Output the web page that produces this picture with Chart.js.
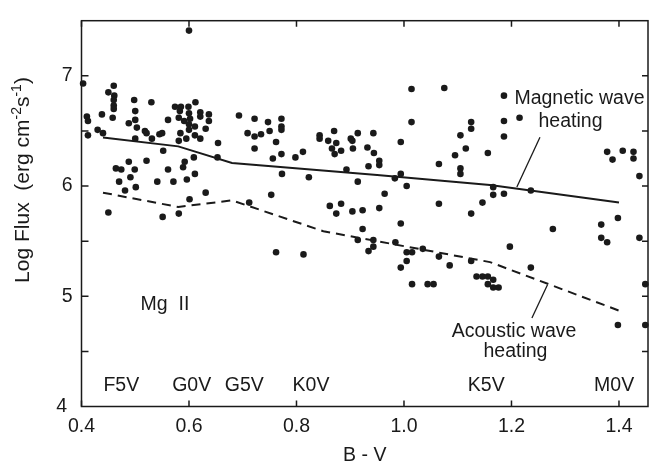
<!DOCTYPE html>
<html>
<head>
<meta charset="utf-8">
<script src="https://cdn.jsdelivr.net/npm/chart.js@4.4.1/dist/chart.umd.min.js"></script>
<style>
  body { margin: 0; background: #fff; }
  canvas { display: block; }
</style>
</head>
<body>
<canvas id="chart" width="656" height="468"></canvas>
<script>
// star measurements, B-V colour and Mg II log flux
const starBV = [
  0.403, 0.46, 0.45, 0.461, 0.46, 0.46, 0.46, 0.498, 0.53, 0.50,
  0.458, 0.41, 0.412, 0.438, 0.488, 0.50, 0.503, 0.518, 0.521, 0.545,
  0.55, 0.531, 0.50, 0.561, 0.43, 0.44, 0.412, 0.60, 0.574, 0.585,
  0.599, 0.612, 0.583, 0.60, 0.621, 0.621, 0.637, 0.581, 0.591, 0.602,
  0.60, 0.611, 0.637, 0.631, 0.584, 0.595, 0.611, 0.621, 0.581, 0.60,
  0.654, 0.653, 0.552, 0.488, 0.521, 0.464, 0.474, 0.499, 0.561, 0.592,
  0.609, 0.589, 0.491, 0.47, 0.501, 0.541, 0.571, 0.596, 0.611, 0.481,
  0.631, 0.601, 0.45, 0.551, 0.581,
  0.693, 0.722, 0.709, 0.722, 0.734, 0.722, 0.747, 0.75, 0.772, 0.772,
  0.772, 0.762, 0.772, 0.756, 0.798, 0.812, 0.773, 0.823, 0.753, 0.712,
  0.843, 0.843, 0.87, 0.859, 0.874, 0.866, 0.871, 0.883, 0.901, 0.904,
  0.914, 0.905, 0.932, 0.943, 0.893, 0.934, 0.914, 0.862, 0.883, 0.874,
  0.904, 0.923, 0.923, 0.914, 0.943, 0.943, 0.934, 0.762, 0.813,
  0.944, 0.954, 0.954, 1.014, 1.075, 1.186, 1.215, 1.014, 1.125, 1.125,
  1.186, 1.186, 0.994, 1.105, 1.115, 1.095, 1.156, 1.065, 1.105, 1.105,
  0.983, 0.994, 1.005, 0.964, 1.166, 1.166, 1.186, 1.146, 1.065, 0.954,
  1.125, 0.994, 0.984, 1.005, 1.015, 1.035, 1.005, 0.994, 1.065, 1.085,
  1.125, 1.197, 1.015, 1.044, 1.055, 1.135, 1.146, 1.156, 1.166, 1.156,
  1.166, 1.176, 1.236, 1.277, 1.236, 1.378, 1.388, 1.407, 1.427, 1.427,
  1.438, 1.367, 1.398, 1.367, 1.378, 1.438, 1.449, 1.398, 1.449
];
const starFlux = [
  6.93, 6.91, 6.85, 6.82, 6.78, 6.73, 6.70, 6.78, 6.76, 6.68,
  6.62, 6.63, 6.59, 6.65, 6.57, 6.60, 6.53, 6.50, 6.48, 6.47,
  6.48, 6.43, 6.43, 6.60, 6.51, 6.48, 6.46, 7.41, 6.72, 6.72,
  6.72, 6.76, 6.68, 6.66, 6.67, 6.63, 6.65, 6.62, 6.59, 6.61,
  6.56, 6.54, 6.59, 6.52, 6.48, 6.43, 6.46, 6.43, 6.41, 6.51,
  6.39, 6.26, 6.32, 6.22, 6.23, 6.16, 6.15, 6.15, 6.15, 6.22,
  6.26, 6.17, 6.08, 6.04, 5.99, 6.04, 6.04, 6.06, 6.11, 5.96,
  5.94, 5.88, 5.76, 5.72, 5.75,
  6.64, 6.61, 6.48, 6.45, 6.47, 6.34, 6.58, 6.50, 6.61, 6.54,
  6.51, 6.40, 6.29, 6.25, 6.26, 6.31, 6.11, 6.08, 5.92, 5.85,
  6.46, 6.43, 6.50, 6.41, 6.39, 6.34, 6.29, 6.32, 6.43, 6.41,
  6.48, 6.34, 6.35, 6.48, 6.15, 6.18, 6.04, 5.82, 5.84, 5.75,
  5.77, 5.78, 5.61, 5.51, 5.51, 5.45, 5.41, 5.40, 5.38,
  6.30, 6.23, 6.19, 6.88, 6.89, 6.82, 6.62, 6.58, 6.58, 6.52,
  6.59, 6.45, 6.40, 6.46, 6.34, 6.28, 6.30, 6.20, 6.16, 6.11,
  6.07, 6.11, 6.00, 5.93, 5.99, 5.92, 5.93, 5.85, 5.84, 5.80,
  5.75, 5.66, 5.49, 5.40, 5.40, 5.43, 5.32, 5.26, 5.36, 5.28,
  5.32, 5.45, 5.11, 5.11, 5.11, 5.18, 5.18, 5.18, 5.15, 5.11,
  5.08, 5.08, 5.96, 5.61, 5.26, 6.31, 6.24, 6.32, 6.31, 6.25,
  6.09, 5.65, 5.71, 5.53, 5.49, 5.53, 5.11, 4.74, 4.74
];

// model curves
const magneticBV = [0.44, 0.58, 0.68, 0.95, 1.16, 1.40];
const magneticFlux = [6.44, 6.36, 6.21, 6.10, 6.01, 5.85];
const acousticBV = [0.44, 0.58, 0.68, 0.85, 0.95, 1.16, 1.40];
const acousticFlux = [5.94, 5.81, 5.87, 5.59, 5.50, 5.31, 4.87];

// label pointer lines
const magLeaderBV = [1.253, 1.210];
const magLeaderFlux = [6.443, 5.991];
const acLeaderBV = [1.267, 1.238];
const acLeaderFlux = [5.104, 4.803];

// spectral types along the bottom
const specTypes = ["F5V", "G0V", "G5V", "K0V", "K5V", "M0V"];
const specBV = [0.474, 0.605, 0.703, 0.827, 1.153, 1.391];

const xTicks = [0.4, 0.6, 0.8, 1.0, 1.2, 1.4];
const xTickLabels = ["0.4", "0.6", "0.8", "1.0", "1.2", "1.4"];
const yTicks = [4, 5, 6, 7];
const yTickLabels = ["4 ", "5", "6", "7"];
const yMinorTicks = [4.5, 5, 5.5, 6, 6.5, 7];

const FONT = '"Liberation Sans", Arial, sans-serif';
const INK = "#1a1a1a";

function pairs(xs, ys) {
  return xs.map((x, i) => ({ x: x, y: ys[i] }));
}

function drawText(ctx, text, x, y, size, align) {
  ctx.font = size + "px " + FONT;
  ctx.textAlign = align || "center";
  ctx.textBaseline = "alphabetic";
  ctx.fillText(text, x, y);
}

const framePlugin = {
  id: "frame",
  afterDraw(chart) {
    const ctx = chart.ctx;
    const a = chart.chartArea;
    const xs = chart.scales.x;
    const ys = chart.scales.y;
    ctx.save();
    ctx.strokeStyle = INK;
    ctx.fillStyle = INK;
    ctx.lineWidth = 1.5;
    ctx.strokeRect(a.left, a.top, a.right - a.left, a.bottom - a.top);

    // inward ticks
    ctx.beginPath();
    xTicks.forEach(v => {
      const px = xs.getPixelForValue(v);
      ctx.moveTo(px, a.bottom); ctx.lineTo(px, a.bottom - 6);
      ctx.moveTo(px, a.top); ctx.lineTo(px, a.top + 6);
    });
    yMinorTicks.forEach(v => {
      const py = ys.getPixelForValue(v);
      ctx.moveTo(a.left, py); ctx.lineTo(a.left + 7, py);
      ctx.moveTo(a.right, py); ctx.lineTo(a.right - 6, py);
    });
    ctx.stroke();

    // spectral types
    const specY = ys.getPixelForValue(4.144);
    specTypes.forEach((t, i) => {
      drawText(ctx, t, xs.getPixelForValue(specBV[i]), specY, 19.5);
    });

    drawText(ctx, "Mg  II", xs.getPixelForValue(0.510), ys.getPixelForValue(4.879), 19.5, "left");

    drawText(ctx, "Magnetic wave", xs.getPixelForValue(1.3265), ys.getPixelForValue(6.742), 19.5);
    drawText(ctx, "heating", xs.getPixelForValue(1.3098), ys.getPixelForValue(6.539), 19.5);
    drawText(ctx, "Acoustic wave", xs.getPixelForValue(1.2047), ys.getPixelForValue(4.633), 19.5);
    drawText(ctx, "heating", xs.getPixelForValue(1.2074), ys.getPixelForValue(4.449), 19.5);

    // y title with superscripts
    const parts = [
      { t: "Log Flux  (erg cm", s: 21, dy: 0 },
      { t: "-2", s: 14, dy: -8.5 },
      { t: "s", s: 21, dy: 0 },
      { t: "-1", s: 14, dy: -8.5 },
      { t: ")", s: 21, dy: 0 }
    ];
    let total = 0;
    parts.forEach(p => {
      ctx.font = p.s + "px " + FONT;
      p.w = ctx.measureText(p.t).width;
      total += p.w;
    });
    ctx.translate(29, 180);
    ctx.rotate(-Math.PI / 2);
    let cx = -total / 2;
    parts.forEach(p => {
      drawText(ctx, p.t, cx, p.dy, p.s, "left");
      cx += p.w;
    });
    ctx.restore();
  }
};

new Chart(document.getElementById("chart"), {
  type: "scatter",
  data: {
    datasets: [
      {
        data: pairs(starBV, starFlux),
        pointRadius: 3.3,
        pointBackgroundColor: INK,
        pointBorderWidth: 0,
        clip: false
      },
      {
        data: pairs(magneticBV, magneticFlux),
        showLine: true,
        borderColor: INK,
        borderWidth: 2,
        pointRadius: 0
      },
      {
        data: pairs(acousticBV, acousticFlux),
        showLine: true,
        borderColor: INK,
        borderWidth: 2,
        borderDash: [9, 6],
        pointRadius: 0
      },
      {
        data: pairs(magLeaderBV, magLeaderFlux),
        showLine: true,
        borderColor: INK,
        borderWidth: 1.3,
        pointRadius: 0
      },
      {
        data: pairs(acLeaderBV, acLeaderFlux),
        showLine: true,
        borderColor: INK,
        borderWidth: 1.3,
        pointRadius: 0
      }
    ]
  },
  options: {
    responsive: false,
    animation: false,
    devicePixelRatio: 1,
    layout: { padding: { top: 6, right: 8, left: 0, bottom: 0 } },
    plugins: { legend: { display: false }, tooltip: { enabled: false } },
    scales: {
      x: {
        type: "linear",
        min: 0.4,
        max: 1.454,
        grid: { display: false, drawTicks: false },
        border: { display: false },
        afterBuildTicks: s => { s.ticks = xTicks.map(v => ({ value: v })); },
        afterFit: s => { s.height = 61.5; },
        ticks: {
          padding: 8,
          color: INK,
          maxRotation: 0,
          autoSkip: false,
          font: { size: 19.5, family: FONT },
          callback: (v, i) => xTickLabels[i]
        },
        title: {
          display: true,
          text: "B - V",
          color: INK,
          font: { size: 19.5, family: FONT },
          padding: { top: 0, bottom: 1 }
        }
      },
      y: {
        type: "linear",
        min: 4,
        max: 7.5,
        grid: { display: false, drawTicks: false },
        border: { display: false },
        afterBuildTicks: s => { s.ticks = yTicks.map(v => ({ value: v })); },
        afterFit: s => { s.width = 81.5; },
        ticks: {
          padding: 9,
          color: INK,
          autoSkip: false,
          font: { size: 19.5, family: FONT },
          callback: (v, i) => yTickLabels[i]
        }
      }
    }
  },
  plugins: [framePlugin]
});
</script>
</body>
</html>
